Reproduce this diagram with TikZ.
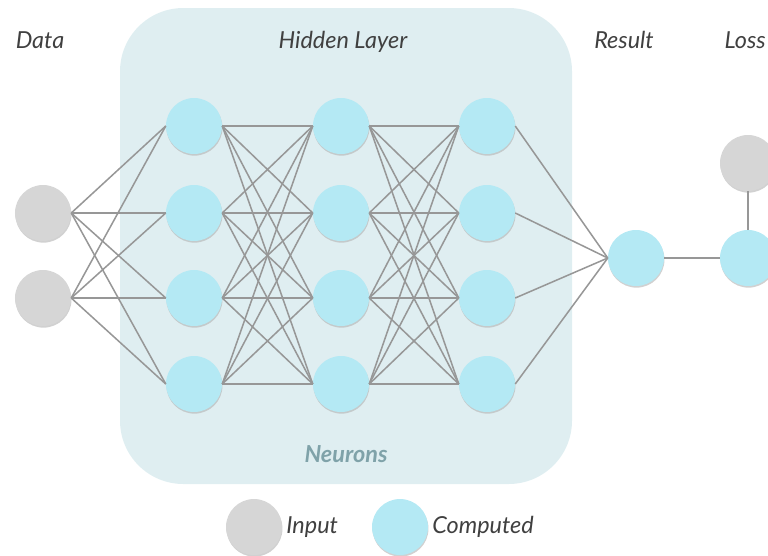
\documentclass[tikz,border=0pt]{standalone}
\usepackage{fontspec}
\setmainfont{Lato}
\usepackage{xcolor}
\usetikzlibrary{shadows}
\definecolor{inputgray}{HTML}{D6D6D6}
\definecolor{computedblue}{HTML}{B4E9F4}
\definecolor{panelblue}{HTML}{DFEEF1}
\definecolor{wiregray}{HTML}{979797}
\definecolor{neurontext}{HTML}{7FA2A9}
\tikzset{
  neuron/.style={ % one circle of the network
    circle, minimum size=1.68cm, inner sep=0pt,
    drop shadow={shadow xshift=0.4pt, shadow yshift=-1.4pt, fill=black!30, opacity=0.6}
  },
  innode/.style={neuron, fill=inputgray},    % given value
  compnode/.style={neuron, fill=computedblue}, % computed value
  wire/.style={draw=wiregray, line width=1.3pt},
  caption/.style={font=\fontsize{20}{24}\selectfont\itshape, text=black!75, anchor=base}
}

\begin{document}
\begin{tikzpicture}[x=0.03cm, y=-0.03cm]
  \useasboundingbox (0,0) rectangle (768,555);

  % panel behind the hidden layer
  \fill[panelblue, rounded corners=1.9cm] (120,8) rectangle (572,484);

  % input layer
  \node[innode] (d1) at (43,213) {};
  \node[innode] (d2) at (43,298) {};

  % hidden layers
  \foreach \l/\x in {1/194, 2/341, 3/487}
    \foreach \i/\y in {1/126, 2/213, 3/298, 4/384}
      \node[compnode] (h\l\i) at (\x,\y) {};

  \node[compnode] (res) at (636,258) {};
  \node[compnode] (loss) at (748,258) {};
  \node[innode] (target) at (748,163) {};

  % connections
  \foreach \a in {1,2}
    \foreach \b in {1,...,4}
      \draw[wire] (d\a.east) -- (h1\b.west);
  \foreach \a in {1,...,4}
    \foreach \b in {1,...,4}
    {
      \draw[wire] (h1\a.east) -- (h2\b.west);
      \draw[wire] (h2\a.east) -- (h3\b.west);
    }
  \foreach \a in {1,...,4}
    \draw[wire] (h3\a.east) -- (res.west);
  \draw[wire] (res.east) -- (loss.west);
  \draw[wire] (target.south) -- (loss.north);

  % titles
  \node[caption] (data_label) at (40,48) {Data};
  \node[caption] (hidden_label) at (343,48) {Hidden Layer};
  \node[caption] (result_label) at (624,48) {Result};
  \node[caption, anchor=base east, inner sep=0pt] (loss_label) at (766,48) {Loss};
  \node[caption, font=\fontsize{20}{24}\selectfont\itshape\bfseries, text=neurontext] (neuron_label) at (346,462) {Neurons};

  % legend
  \node[innode] (key_in) at (254,527) {};
  \node[caption, anchor=west] (key_in_text) at (key_in.east) {Input};
  \node[compnode] (key_comp) at (400,527) {};
  \node[caption, anchor=west] (key_comp_text) at (key_comp.east) {Computed};
\end{tikzpicture}
\end{document}
